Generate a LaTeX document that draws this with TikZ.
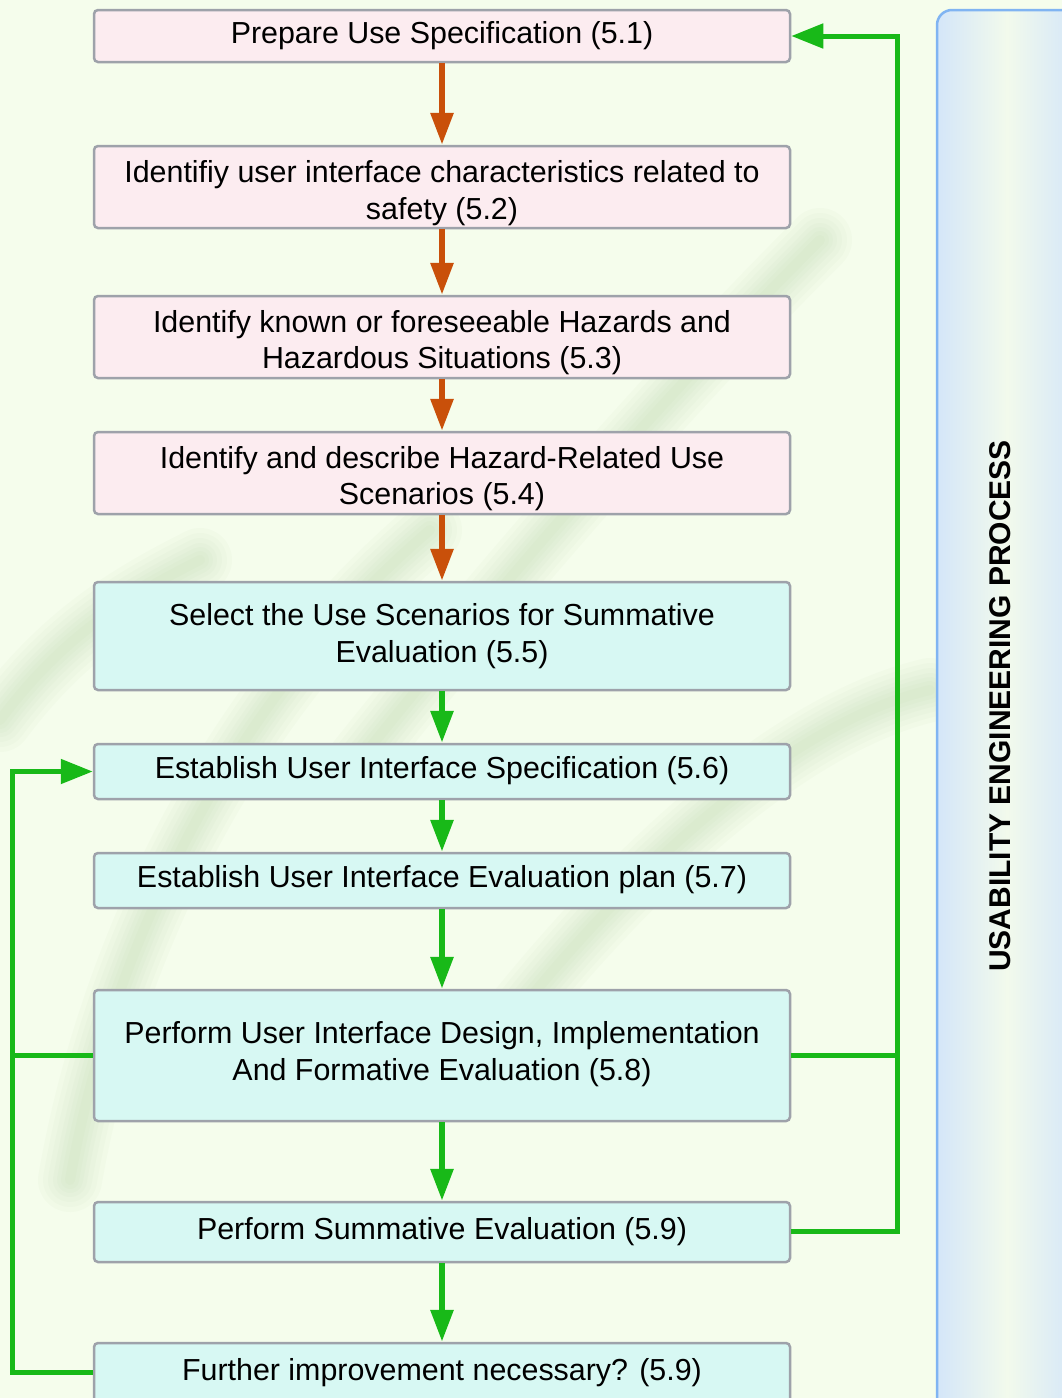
\documentclass[tikz,border=0pt]{standalone}
\usepackage{fontspec}
\setmainfont{Liberation Sans}
\usetikzlibrary{arrows.meta}
\definecolor{bgc}{RGB}{245,253,236}
\definecolor{pinkf}{RGB}{252,236,240}
\definecolor{cyanf}{RGB}{215,248,243}
\definecolor{boxline}{RGB}{158,162,170}
\definecolor{orangec}{RGB}{201,80,10}
\definecolor{greenc}{RGB}{24,185,24}
\definecolor{panelblue}{RGB}{212,230,249}
\definecolor{panellight}{RGB}{242,250,236}
\definecolor{panelline}{RGB}{128,180,242}
\definecolor{wmark}{RGB}{140,185,120}
\tikzset{
  stepbox/.style={draw=boxline, line width=2.5pt, rounded corners=4pt,
    minimum width=696pt, inner sep=0pt},
  pinkbox/.style={stepbox, fill=pinkf},
  cyanbox/.style={stepbox, fill=cyanf},
  steptext/.style={align=center, inner sep=0pt, font=\fontsize{30.4}{36.5}\selectfont},
  oarrow/.style={draw=orangec, line width=6pt, -{Triangle[length=32pt,width=22pt]}},
  garrow/.style={draw=greenc, line width=6pt, -{Triangle[length=32pt,width=22pt]}},
  gloop/.style={draw=greenc, line width=5pt},
  wmlayer/.style={draw=wmark, line cap=round, opacity=0.035},
}
\begin{document}
\begin{tikzpicture}[x=1pt,y=-1pt]
\useasboundingbox (0,0) rectangle (1062,1398);
\clip (0,0) rectangle (1062,1398);
\fill[bgc] (0,0) rectangle (1062,1398);
% faint, soft watermark swashes
\foreach \w in {64,54,44,34,26,18,10}{
  \draw[wmlayer, line width=\w pt] (70,1180) .. controls (110,950) and (230,700) .. (430,530);
  \draw[wmlayer, line width=\w pt] (360,760) .. controls (520,560) and (680,380) .. (820,240);
  \draw[wmlayer, line width=\w pt] (520,1010) .. controls (650,850) and (800,720) .. (930,690);
  \draw[wmlayer, line width=\w pt] (0,720) .. controls (60,640) and (120,600) .. (200,560);
}
% side panel
\shade[left color=panelblue, right color=panelblue, middle color=panellight, rounded corners=15pt]
  (937,10) rectangle (1077,1440);
\draw[panelline, line width=2.5pt, rounded corners=15pt] (937,1440) -- (937,10) -- (1077,10) -- (1077,1440);
\node[rotate=90, font=\fontsize{30}{36}\selectfont\bfseries] (title) at (1000,706) {USABILITY ENGINEERING PROCESS};
% boxes
\node[pinkbox, minimum height=52pt] (b1) at (442,36) {};
\node[pinkbox, minimum height=82pt] (b2) at (442,187) {};
\node[pinkbox, minimum height=82pt] (b3) at (442,337) {};
\node[pinkbox, minimum height=82pt] (b4) at (442,473) {};
\node[cyanbox, minimum height=108pt] (b5) at (442,636) {};
\node[cyanbox, minimum height=55pt] (b6) at (442,771.5) {};
\node[cyanbox, minimum height=55pt] (b7) at (442,880.5) {};
\node[cyanbox, minimum height=131pt] (b8) at (442,1055.5) {};
\node[cyanbox, minimum height=60pt] (b9) at (442,1232) {};
\node[cyanbox, minimum height=80pt] (b10) at (442,1383) {};
% texts
\node[steptext] (t1) at (442,36) {Prepare Use Specification (5.1)};
\node[steptext] (t2) at (442,193) {Identifiy user interface characteristics related to\\safety (5.2)};
\node[steptext] (t3) at (442,342.5) {Identify known or foreseeable Hazards and\\Hazardous Situations (5.3)};
\node[steptext] (t4) at (442,478.5) {Identify and describe Hazard-Related Use\\Scenarios (5.4)};
\node[steptext] (t5) at (442,636) {Select the Use Scenarios for Summative\\Evaluation (5.5)};
\node[steptext] (t6) at (442,771) {Establish User Interface Specification (5.6)};
\node[steptext] (t7) at (442,880) {Establish User Interface Evaluation plan (5.7)};
\node[steptext] (t8) at (442,1054) {Perform User Interface Design, Implementation\\And Formative Evaluation (5.8)};
\node[steptext] (t9) at (442,1232) {Perform Summative Evaluation (5.9)};
\node[steptext] (t10) at (442,1373) {Further improvement necessary? (5.9)};
% vertical arrows
\draw[oarrow] (b1.south) -- (b2.north);
\draw[oarrow] (b2.south) -- (b3.north);
\draw[oarrow] (b3.south) -- (b4.north);
\draw[oarrow] (b4.south) -- (b5.north);
\draw[garrow] (b5.south) -- (b6.north);
\draw[garrow] (b6.south) -- (b7.north);
\draw[garrow] (b7.south) -- (b8.north);
\draw[garrow] (b8.south) -- (b9.north);
\draw[garrow] (b9.south) -- (b10.north);
% right loop
\coordinate (rb) at (897,1231);
\coordinate (rt) at (897,36);
\coordinate (rm) at (897,1055);
\draw[gloop, line join=miter, -{Triangle[length=32pt,width=24pt]}] (b9.east |- rb) -- (rb) -- (rt) -- (b1.east);
\draw[gloop] (b8.east |- rm) -- (rm);
% left loop
\coordinate (lb) at (12,1372);
\coordinate (lt) at (12,771.5);
\coordinate (lm) at (12,1055);
\draw[gloop, line join=miter, -{Triangle[length=32pt,width=24pt]}] (b10.west |- lb) -- (lb) -- (lt) -- (b6.west);
\draw[gloop] (b8.west |- lm) -- (lm);
\end{tikzpicture}
\end{document}
